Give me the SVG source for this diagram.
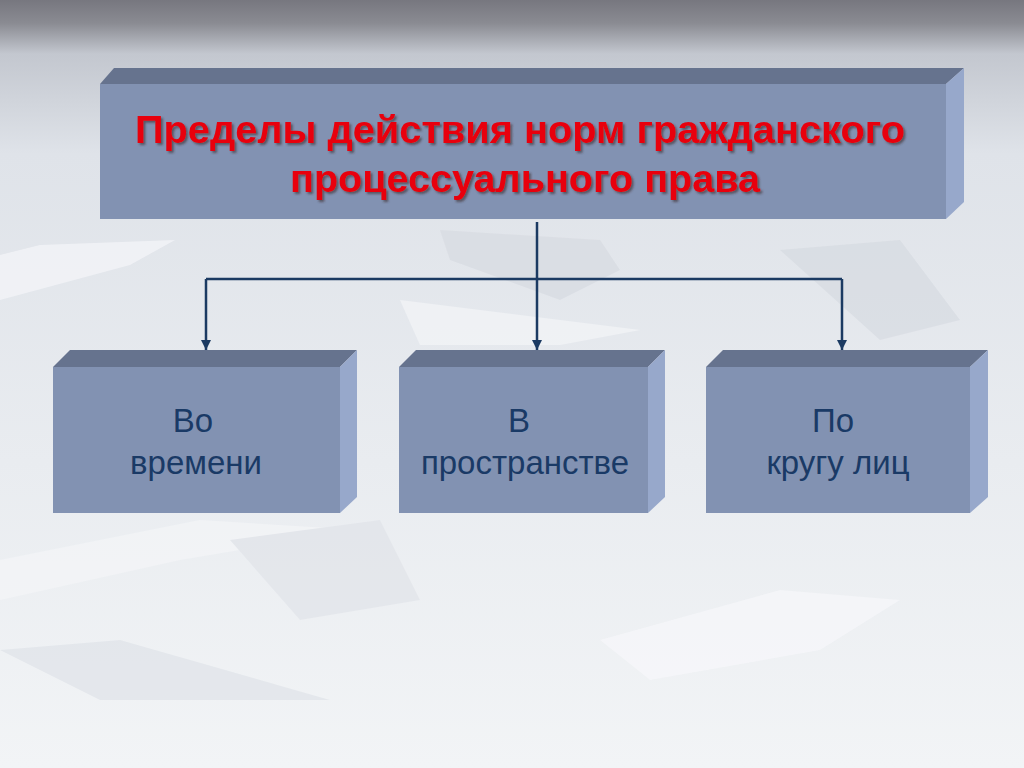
<svg xmlns="http://www.w3.org/2000/svg" width="1024" height="768" viewBox="0 0 1024 768">
<defs>
<linearGradient id="bg" x1="0" y1="0" x2="0" y2="1">
<stop offset="0" stop-color="#77777f"/>
<stop offset="0.03" stop-color="#8a8b92"/>
<stop offset="0.07" stop-color="#c3c7cf"/>
<stop offset="0.2" stop-color="#dfe3e9"/>
<stop offset="0.6" stop-color="#e9ecf0"/>
<stop offset="1" stop-color="#f2f4f6"/>
</linearGradient>
<marker id="arr" viewBox="0 0 10 10" refX="10" refY="5" markerWidth="4" markerHeight="4" orient="auto" markerUnits="strokeWidth">
<path d="M0,0 L10,5 L0,10 z" fill="#1b3a62"/>
</marker>
<filter id="sh" x="-5%" y="-20%" width="110%" height="140%">
<feDropShadow dx="2" dy="2" stdDeviation="1" flood-color="#3a2a2a" flood-opacity="0.6"/>
</filter>
</defs>
<style>
.front{fill:#8292b2}
.top{fill:#66738e}
.side{fill:#97a8cb}
.title{font-family:"Liberation Sans",Arial,sans-serif;font-weight:bold;font-size:38px;fill:#e8000a;text-anchor:middle}
.lbl{font-family:"Liberation Sans",Arial,sans-serif;font-size:33px;fill:#1a3a66;text-anchor:middle}
.conn{stroke:#1b3a62;stroke-width:2.5;fill:none}
</style>
<rect width="1024" height="768" fill="url(#bg)"/>
<g id="background" opacity="0.6">
<polygon points="0,300 130,265 175,240 40,245 0,255" fill="#f8f9fb"/>
<polygon points="0,560 200,520 360,530 180,560 0,600" fill="#f6f7f9"/>
<polygon points="440,230 600,240 620,270 560,300 450,260" fill="#d5d9e0"/>
<polygon points="400,300 560,320 640,330 560,345 420,345" fill="#f7f8fa"/>
<polygon points="600,640 780,590 900,600 820,650 650,680" fill="#f8f9fb"/>
<polygon points="0,650 120,640 330,700 100,700" fill="#dde1e7"/>
<polygon points="780,250 900,240 960,320 880,340" fill="#d4d8df"/>
<polygon points="230,540 380,520 420,600 300,620" fill="#dfe2e8"/>
</g>
<g id="connectors">
<line class="conn" x1="537" y1="222" x2="537" y2="279"/>
<line class="conn" x1="206" y1="279" x2="842" y2="279"/>
<line class="conn" x1="206" y1="279" x2="206" y2="350" marker-end="url(#arr)"/>
<line class="conn" x1="537" y1="279" x2="537" y2="350" marker-end="url(#arr)"/>
<line class="conn" x1="842" y1="279" x2="842" y2="350" marker-end="url(#arr)"/>
</g>
<g id="node-title">
<polygon class="top" points="100,84 114,68 964,68 946,84"/>
<polygon class="side" points="946,84 964,68 964,202 946,219"/>
<rect class="front" x="100" y="84" width="846" height="135"/>
<text class="title" filter="url(#sh)" x="520" y="143" textLength="770" lengthAdjust="spacingAndGlyphs">Пределы действия норм гражданского</text>
<text class="title" filter="url(#sh)" x="525" y="192" textLength="470" lengthAdjust="spacingAndGlyphs">процессуального права</text>
</g>
<g id="node-time">
<polygon class="top" points="53,367 70,350 357,350 340,367"/>
<polygon class="side" points="340,367 357,350 357,497 340,513"/>
<rect class="front" x="53" y="367" width="287" height="146"/>
<text class="lbl" x="193" y="432">Во</text>
<text class="lbl" x="196" y="474">времени</text>
</g>
<g id="node-space">
<polygon class="top" points="399,367 416,350 665,350 648,367"/>
<polygon class="side" points="648,367 665,350 665,497 648,513"/>
<rect class="front" x="399" y="367" width="249" height="146"/>
<text class="lbl" x="519" y="432">В</text>
<text class="lbl" x="525" y="474">пространстве</text>
</g>
<g id="node-persons">
<polygon class="top" points="706,367 723,350 988,350 970,367"/>
<polygon class="side" points="970,367 988,350 988,497 970,513"/>
<rect class="front" x="706" y="367" width="264" height="146"/>
<text class="lbl" x="833" y="432">По</text>
<text class="lbl" x="838" y="474">кругу лиц</text>
</g>
</svg>
